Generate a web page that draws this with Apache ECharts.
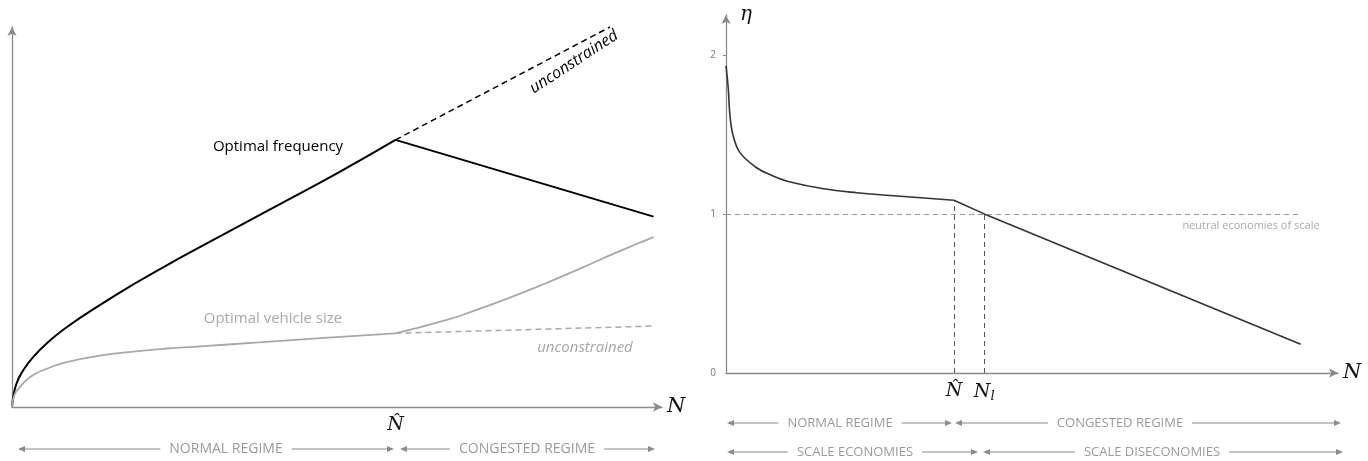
<!DOCTYPE html>
<html><head><meta charset="utf-8">
<script src="https://cdn.jsdelivr.net/npm/echarts@6/dist/echarts.min.js"></script>
<style>html,body{margin:0;padding:0;background:#fff}#c{width:1368px;height:461px}</style>
</head><body><div id="c"></div>
<script>
// ---- Left panel data (N in relative units, value in relative units) ----
const N_HAT_L = 59;
const freqNormalN   = [0, 0.2, 0.72, 1.74, 3.28, 5.85, 8.4, 13.5, 18.7, 23.8, 28.4, 40, 50, 59];
const freqNormalVal = [0, 2.7, 6.3, 9.7, 13.2, 17.5, 21.0, 26.8, 32.3, 37.3, 41.6, 52.3, 61.5, 70.3];
const freqCongN     = [59, 98.7];
const freqCongVal   = [70.3, 50.1];
const freqUncN      = [59, 92];
const freqUncVal    = [70.3, 100];
const sizeNormalN   = [0, 0.2, 1.23, 3.28, 5.85, 8.4, 13.5, 18.7, 23.8, 28.4, 38, 48, 59];
const sizeNormalVal = [0, 2.3, 5.3, 8.4, 10.4, 11.8, 13.5, 14.6, 15.4, 15.9, 17.0, 18.2, 19.4];
const sizeCongN     = [59, 66.9, 72, 77.1, 82.3, 87.4, 92.5, 98.7];
const sizeCongVal   = [19.4, 22.9, 25.9, 29.1, 32.7, 36.4, 40.3, 44.7];
const sizeUncN      = [59, 98.7];
const sizeUncVal    = [19.4, 21.3];

// ---- Right panel data (eta vs N) ----
const N_HAT_R = 37.25, N_L = 42.2;
const etaNormalN   = [0, 0.38, 0.65, 1.18, 2.29, 5.0, 7.7, 10.5, 15.9, 21.4, 26.8, 37.25];
const etaNormalVal = [1.93, 1.784, 1.616, 1.49, 1.385, 1.29, 1.238, 1.2, 1.158, 1.133, 1.116, 1.086];
const etaCongN     = [37.25, 42.2, 93.9];
const etaCongVal   = [1.086, 1.0, 0.18];
const etaTicks     = [0, 1, 2];
const neutralLine  = [[0, 1], [93.5, 1]];

const zip = (a, b) => a.map((v, i) => [v, b[i]]);
const GRAY = '#8a8a8a';
const TXT = '#9a9a9a';
const NARROW = '"Liberation Sans Narrow","Open Sans",sans-serif';

function dblArrow(x1, x2, y, tx, text, size) {
  const els = [];
  els.push({type:'line', shape:{x1:x1+5, y1:y, x2:x2-5, y2:y}, style:{stroke:GRAY, lineWidth:1}, z:10});
  els.push({type:'polygon', shape:{points:[[x1,y],[x1+7,y-3],[x1+7,y+3]]}, style:{fill:GRAY}, z:10});
  els.push({type:'polygon', shape:{points:[[x2,y],[x2-7,y-3],[x2-7,y+3]]}, style:{fill:GRAY}, z:10});
  els.push({type:'text', x:tx, y:y, z:11, style:{text:text, fill:TXT, font:size+'px '+NARROW,
    align:'center', verticalAlign:'middle', backgroundColor:'#fff', padding:[2,9]}});
  return els;
}

const hatLabel = {fontFamily:'"DejaVu Serif",serif', fontStyle:'italic', fontSize:19, color:'#111'};

const option = {
  animation:false,
  grid:[
    {left:12, top:27, width:650, height:380},
    {left:726, top:15, width:612, height:358}
  ],
  xAxis:[
    {gridIndex:0, type:'value', min:0, max:100,
     axisLine:{show:true, onZero:false, symbol:['none','arrow'], symbolSize:[7,9], lineStyle:{color:GRAY, width:1.3}},
     axisTick:{show:false}, splitLine:{show:false},
     axisLabel:Object.assign({customValues:[N_HAT_L], formatter:()=> 'N\u0302', margin:9}, hatLabel),
     name:'N', nameLocation:'end', nameGap:5,
     nameTextStyle:{fontFamily:'"DejaVu Serif",serif', fontStyle:'italic', fontSize:21, color:'#111'}},
    {gridIndex:1, type:'value', min:0, max:100,
     axisLine:{show:true, onZero:false, symbol:['none','arrow'], symbolSize:[7,9], lineStyle:{color:GRAY, width:1.3}},
     axisTick:{show:false}, splitLine:{show:false},
     axisLabel:Object.assign({customValues:[N_HAT_R, N_L], margin:9,
       formatter:(v)=> v === N_HAT_R ? 'N\u0302' : '{n|N}{s|l}',
       rich:{n:hatLabel, s:{fontFamily:'"DejaVu Serif",serif', fontStyle:'italic', fontSize:13, color:'#111', verticalAlign:'bottom', padding:[8,0,0,0]}}}, hatLabel),
     name:'N', nameLocation:'end', nameGap:5,
     nameTextStyle:{fontFamily:'"DejaVu Serif",serif', fontStyle:'italic', fontSize:21, color:'#111'}}
  ],
  yAxis:[
    {gridIndex:0, type:'value', min:0, max:100,
     axisLine:{show:true, onZero:false, symbol:['none','arrow'], symbolSize:[7,9], lineStyle:{color:GRAY, width:1.3}},
     axisTick:{show:false}, axisLabel:{show:false}, splitLine:{show:false}},
    {gridIndex:1, type:'value', min:0, max:2.25,
     axisLine:{show:true, onZero:false, symbol:['none','arrow'], symbolSize:[7,9], lineStyle:{color:GRAY, width:1.3}},
     axisTick:{show:true, customValues:[1,2], length:3, lineStyle:{color:GRAY}},
     axisLabel:{customValues:etaTicks, fontSize:10, color:'#777', margin:10, fontFamily:'"Open Sans",sans-serif'},
     splitLine:{show:false}}
  ],
  series:[
    {type:'line', xAxisIndex:0, yAxisIndex:0, data:zip(freqNormalN, freqNormalVal), smooth:0.5,
     symbol:'none', lineStyle:{color:'#000', width:2},
     markLine:{silent:true, symbol:'none', label:{show:false},
       lineStyle:{color:'#c4c4c4', width:1, type:[3,3]},
       data:[[{coord:[N_HAT_L,0]},{coord:[N_HAT_L,104]}]]}},
    {type:'line', xAxisIndex:0, yAxisIndex:0, data:zip(freqCongN, freqCongVal), symbol:'none', lineStyle:{color:'#000', width:2}},
    {type:'line', xAxisIndex:0, yAxisIndex:0, data:zip(freqUncN, freqUncVal), symbol:'none', clip:false, lineStyle:{color:'#000', width:1.5, type:[6,4]}},
    {type:'line', xAxisIndex:0, yAxisIndex:0, data:zip(sizeNormalN, sizeNormalVal), smooth:0.5, symbol:'none', lineStyle:{color:'#a8a8a8', width:1.8}},
    {type:'line', xAxisIndex:0, yAxisIndex:0, data:zip(sizeCongN, sizeCongVal), smooth:0.5, symbol:'none', lineStyle:{color:'#a8a8a8', width:1.8}},
    {type:'line', xAxisIndex:0, yAxisIndex:0, data:zip(sizeUncN, sizeUncVal), symbol:'none', lineStyle:{color:'#a8a8a8', width:1.5, type:[6,4]}},

    {type:'line', xAxisIndex:1, yAxisIndex:1, data:zip(etaNormalN, etaNormalVal), smooth:0.4, symbol:'none', lineStyle:{color:'#333', width:1.6},
     markLine:{silent:true, symbol:'none', label:{show:false},
       lineStyle:{color:'#555', width:1, type:[5,4]},
       data:[
         [{coord:[N_HAT_R,0]},{coord:[N_HAT_R,etaNormalVal[etaNormalVal.length-1]]}],
         [{coord:[N_L,0]},{coord:[N_L,1]}],
         [{coord:neutralLine[0], lineStyle:{color:'#999'}},{coord:neutralLine[1]}]
       ]}},
    {type:'line', xAxisIndex:1, yAxisIndex:1, data:zip(etaCongN, etaCongVal), symbol:'none', lineStyle:{color:'#333', width:1.6}}
  ],
  graphic:[
    {type:'text', x:278, y:147, style:{text:'Optimal frequency', fill:'#000', font:'15px "Open Sans",sans-serif', align:'center', verticalAlign:'middle'}},
    {type:'text', x:273, y:319, style:{text:'Optimal vehicle size', fill:'#a8a8a8', font:'15px "Open Sans",sans-serif', align:'center', verticalAlign:'middle'}},
    {type:'text', x:574, y:62, rotation:0.58, style:{text:'unconstrained', fill:'#000', font:'italic 16px "Open Sans",sans-serif', align:'center', verticalAlign:'middle'}},
    {type:'text', x:585, y:348, style:{text:'unconstrained', fill:'#a8a8a8', font:'italic 15px "Open Sans",sans-serif', align:'center', verticalAlign:'middle'}},
    {type:'text', x:1251, y:226, style:{text:'neutral economies of scale', fill:'#aaa', font:'11px "Open Sans",sans-serif', align:'center', verticalAlign:'middle'}},
    {type:'text', x:740, y:15, style:{text:'η', fill:'#111', font:'italic 20px "DejaVu Serif",serif', align:'left', verticalAlign:'middle'}}
  ].concat(
    dblArrow(18, 394, 449, 226, 'NORMAL REGIME', 14),
    dblArrow(400, 655, 449, 527, 'CONGESTED REGIME', 14),
    dblArrow(727, 952, 423, 840, 'NORMAL REGIME', 13),
    dblArrow(955, 1341, 423, 1120, 'CONGESTED REGIME', 13),
    dblArrow(727, 978, 452, 855, 'SCALE ECONOMIES', 13),
    dblArrow(983, 1343, 452, 1152, 'SCALE DISECONOMIES', 13)
  )
};
echarts.init(document.getElementById('c')).setOption(option);
</script></body></html>
